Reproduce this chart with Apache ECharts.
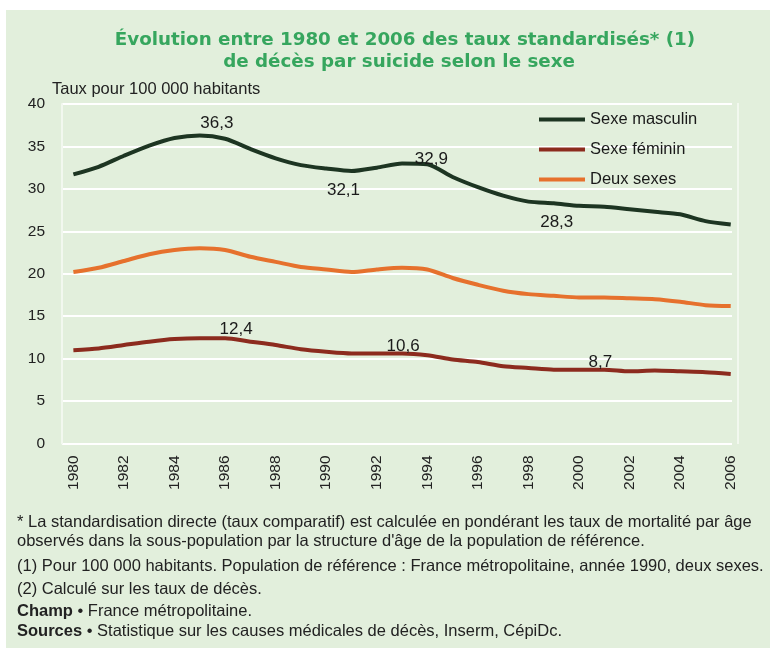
<!DOCTYPE html>
<html>
<head>
<meta charset="utf-8">
<script src="https://cdn.jsdelivr.net/npm/echarts@6/dist/echarts.min.js"></script>
<style>
html,body{margin:0;padding:0;background:#fff;}
#chart{width:770px;height:648px;}
</style>
</head>
<body>
<div id="chart"></div>
<script>
const years = [1980,1981,1982,1983,1984,1985,1986,1987,1988,1989,1990,1991,1992,1993,1994,1995,1996,1997,1998,1999,2000,2001,2002,2003,2004,2005,2006];
const yearTicks = [1980,1982,1984,1986,1988,1990,1992,1994,1996,1998,2000,2002,2004,2006];
const male = [31.7,32.6,33.9,35.1,36.0,36.3,35.9,34.7,33.6,32.8,32.4,32.1,32.5,33.0,32.9,31.4,30.2,29.2,28.5,28.3,28.0,27.9,27.6,27.3,27.0,26.2,25.8];
const female = [11.0,11.2,11.6,12.0,12.3,12.4,12.4,12.0,11.6,11.1,10.8,10.6,10.6,10.6,10.4,9.9,9.6,9.1,8.9,8.7,8.7,8.7,8.5,8.6,8.5,8.4,8.2];
const both = [20.2,20.7,21.5,22.3,22.8,23.0,22.8,22.0,21.4,20.8,20.5,20.2,20.5,20.7,20.5,19.5,18.7,18.0,17.6,17.4,17.2,17.2,17.1,17.0,16.7,16.3,16.2];
const seriesNames = ['Sexe masculin','Sexe féminin','Deux sexes'];
const yTitle = 'Taux pour 100 000 habitants';
const titleLines = ['Évolution entre 1980 et 2006 des taux standardisés* (1)','de décès par suicide selon le sexe'];
const notes = [
  '* La standardisation directe (taux comparatif) est calculée en pondérant les taux de mortalité par âge',
  'observés dans la sous-population par la structure d\'âge de la population de référence.',
  '(1) Pour 100 000 habitants. Population de référence : France métropolitaine, année 1990, deux sexes.',
  '(2) Calculé sur les taux de décès.'
];
const champ = ['Champ', ' • France métropolitaine.'];
const sources = ['Sources', ' • Statistique sur les causes médicales de décès, Inserm, CépiDc.'];

const FONT = '"Liberation Sans", Arial, sans-serif';
const TFONT = '"DejaVu Sans", Verdana, sans-serif';
const NOTE_SIZE = 16.5;
const labelStyle = {fontFamily: FONT, fontSize: 17, color: '#1a1a1a'};

function build(values, annotations) {
  return years.map((y, i) => {
    const item = {value: [y, values[i]]};
    const a = annotations[y];
    if (a) {
      item.label = Object.assign({show: true, position: a.pos, offset: a.off, distance: 5,
        formatter: () => String(values[i]).replace('.', ',')}, labelStyle);
    }
    return item;
  });
}

const maleAnn = {1985: {pos: 'top', off: [17, 1]}, 1991: {pos: 'bottom', off: [-8, 6]}, 1994: {pos: 'top', off: [4, 9]}, 1999: {pos: 'bottom', off: [3, 6]}};
const femaleAnn = {1986: {pos: 'top', off: [11, 5]}, 1993: {pos: 'top', off: [1, 6]}, 2001: {pos: 'top', off: [-4, 6]}};

const chart = echarts.init(document.getElementById('chart'), null, {renderer: 'canvas'});

const noteTops = [514, 533, 558, 581];
const noteGraphics = notes.map((t, i) => ({
  type: 'text', left: 17, top: noteTops[i],
  style: {text: t, fontFamily: FONT, fontSize: NOTE_SIZE, fill: '#222'}
}));
[[champ, 603], [sources, 623]].forEach(([parts, top]) => {
  noteGraphics.push({
    type: 'text', left: 17, top: top,
    style: {text: '{b|' + parts[0] + '}' + parts[1], fontFamily: FONT, fontSize: NOTE_SIZE, fill: '#222',
      rich: {b: {fontFamily: FONT, fontSize: NOTE_SIZE, fontWeight: 'bold', fill: '#222'}}}
  });
});

const lineSeries = (name, values, ann, color, z) => ({
  name, type: 'line', data: build(values, ann), smooth: 0.25,
  showSymbol: true, symbol: 'circle', symbolSize: 0,
  lineStyle: {color, width: 4}, itemStyle: {color}, z,
  emphasis: {disabled: true}
});

chart.setOption({
  backgroundColor: '#ffffff',
  animation: false,
  graphic: [
    {type: 'rect', z: -10, shape: {x: 6, y: 10, width: 764, height: 638}, style: {fill: '#e2efdc'}},
    {type: 'line', z: 0, shape: {x1: 738, y1: 103, x2: 738, y2: 444}, style: {stroke: '#f2f8ef', lineWidth: 2}},
    {type: 'text', x: 405, y: 40, style: {text: titleLines[0], x: 0, y: 0, textAlign: 'center', textVerticalAlign: 'middle', fontFamily: TFONT, fontSize: 18.3, fontWeight: 'bold', fill: '#36a65e'}},
    {type: 'text', x: 399, y: 62, style: {text: titleLines[1], x: 0, y: 0, textAlign: 'center', textVerticalAlign: 'middle', fontFamily: TFONT, fontSize: 18.3, fontWeight: 'bold', fill: '#36a65e'}},
    {type: 'text', left: 52, top: 81, style: {text: yTitle, fontFamily: FONT, fontSize: 16.5, fill: '#222'}},
    ...noteGraphics
  ],
  legend: {
    orient: 'vertical', left: 539, top: 111, padding: 0, itemWidth: 46, itemHeight: 4, itemGap: 13, itemTextGap: 7,
    icon: 'rect', itemStyle: {borderWidth: 0},
    textStyle: {fontFamily: FONT, fontSize: 16.5, color: '#1a1a1a', lineHeight: 16},
    data: seriesNames
  },
  grid: {left: 62, right: 38, top: 104, bottom: 204.5, containLabel: false},
  xAxis: {
    type: 'value', min: 1979.55, max: 2006.05,
    axisLine: {show: false}, axisTick: {show: false}, splitLine: {show: false},
    axisLabel: {customValues: yearTicks, rotate: 90, margin: 12, fontFamily: FONT, fontSize: 15.5, color: '#222', formatter: v => String(v)}
  },
  yAxis: {
    type: 'value', min: 0, max: 40, interval: 5,
    axisLine: {show: true, lineStyle: {color: '#f2f8ef', width: 2}}, axisTick: {show: false},
    splitLine: {lineStyle: {color: '#ffffff', width: 2}},
    axisLabel: {fontFamily: FONT, fontSize: 15.5, color: '#222', margin: 17}
  },
  series: [
    lineSeries(seriesNames[0], male, maleAnn, '#1d3522', 3),
    lineSeries(seriesNames[1], female, femaleAnn, '#8c2b1e', 3),
    lineSeries(seriesNames[2], both, {}, '#e6712d', 2)
  ]
});
</script>
</body>
</html>
